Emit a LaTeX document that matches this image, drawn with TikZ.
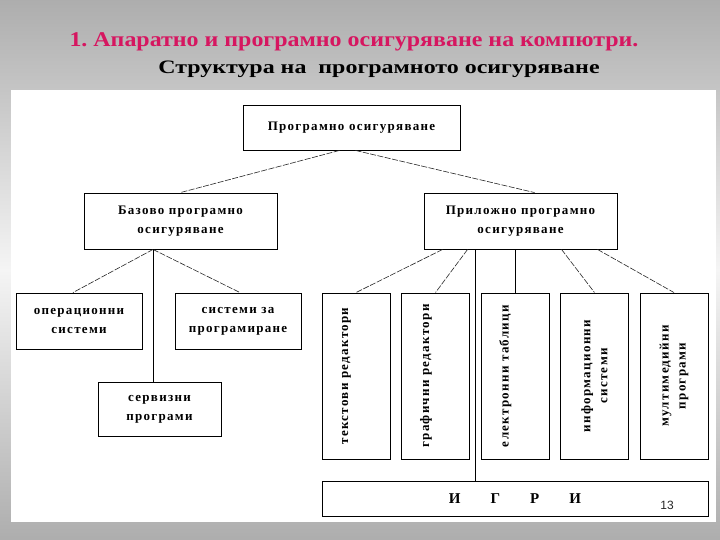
\documentclass[tikz,border=0pt]{standalone}
\usepackage{fontspec}
\setmainfont{Liberation Serif}
\newfontfamily\boxfont[LetterSpace=10]{Liberation Serif}
\newfontfamily\titlefont[FakeStretch=1.14]{Liberation Serif Bold}
\newfontfamily\subtitlefont[FakeStretch=1.26]{Liberation Serif Bold}
\newfontfamily\numfont{Liberation Sans}
\usetikzlibrary{positioning}
\definecolor{titlered}{RGB}{214,22,96}

\begin{document}
\begin{tikzpicture}[x=1pt, y=-1pt, node distance=79.5pt,
    block/.style={rectangle, draw, fill=white, line width=0.9pt, inner sep=0pt, align=center, font=\boxfont\bfseries\fontsize{13}{19}\selectfont},
    vblock/.style={block, rotate=90, minimum width=166pt, minimum height=68pt, font=\boxfont\bfseries\fontsize{13}{17}\selectfont},
    lowtext/.style={text depth=22pt},
    link/.style={draw, black!85, line width=0.6pt, dash pattern=on 6pt off 1.5pt},
    trunk/.style={draw, line width=0.8pt}]

    \useasboundingbox (0,0) rectangle (720,540);
    \shade[top color=black!32, bottom color=black!32, middle color=black!4] (0,0) rectangle (720,540);
    \fill[white] (11,90) rectangle (716,522);

    \node[font=\titlefont\fontsize{21}{24}\selectfont, text=titlered, anchor=base] (title) at (354,47) {1.\ Апаратно и програмно осигуряване на компютри.};
    \node[font=\subtitlefont\fontsize{19}{24}\selectfont, anchor=base] (subtitle) at (379,73.5) {Структура на\ \ програмното осигуряване};

    \node [block, minimum width=217pt, minimum height=45pt] (prog) at (351.5,127.5) {Програмно осигуряване};
    \node [block, minimum width=193pt, minimum height=56pt] (base) at (180.5,221) {Базово програмно\\осигуряване};
    \node [block, right of=base, node distance=340pt, minimum width=193pt, minimum height=56pt] (app) {Приложно програмно\\осигуряване};

    \node [block, minimum width=126pt, minimum height=56pt] (os) at (79,321) {операционни\\системи};
    \node [block, right of=os, node distance=159pt, minimum width=126pt, minimum height=56pt] (sp) {системи за\\програмиране};
    \node [block, minimum width=123pt, minimum height=54pt] (srv) at (159.5,409) {сервизни\\програми};

    \node [vblock, lowtext] (ted) at (356,376) {текстови редактори};
    \node [vblock, lowtext] (ged) at (435.5,376) {графични редактори};
    \node [vblock, lowtext] (tab) at (515,376) {електронни таблици};
    \node [vblock] (inf) at (594.5,376) {информационни\\системи};
    \node [vblock] (mm) at (674,376) {мултимедийни\\програми};

    \node [block, minimum width=386pt, minimum height=35pt, font=\bfseries\fontsize{15}{18}\selectfont] (games) at (515,498.5) {И\hspace{30pt}Г\hspace{30pt}Р\hspace{30pt}И};
    \node [font=\numfont\fontsize{12}{14}\selectfont, text=black!85] (num) at (667,505) {13};

    \coordinate (bj) at ([xshift=-27.5pt]base.south);
    \coordinate (aj) at ([xshift=52pt]app.south west);

    \path [link] ([xshift=-12pt]prog.south) -- (base.north);
    \path [link] ([xshift=4pt]prog.south) -- ([xshift=14pt]app.north);

    \path [link] (bj) -- ([xshift=-6pt]os.north);
    \path [link] (bj) -- ([xshift=2pt]sp.north);
    \path [trunk] (bj) -- (bj |- srv.north);

    \path [link] ([xshift=19pt]app.south west) -- (ted.east);
    \path [link] ([xshift=44pt]app.south west) -- (ged.east);
    \path [trunk] (aj) -- (aj |- games.north);
    \path [trunk] (app.south -| tab.east) -- (tab.east);
    \path [link] ([xshift=138pt]app.south west) -- (inf.east);
    \path [link] ([xshift=174pt]app.south west) -- (mm.east);
\end{tikzpicture}
\end{document}
